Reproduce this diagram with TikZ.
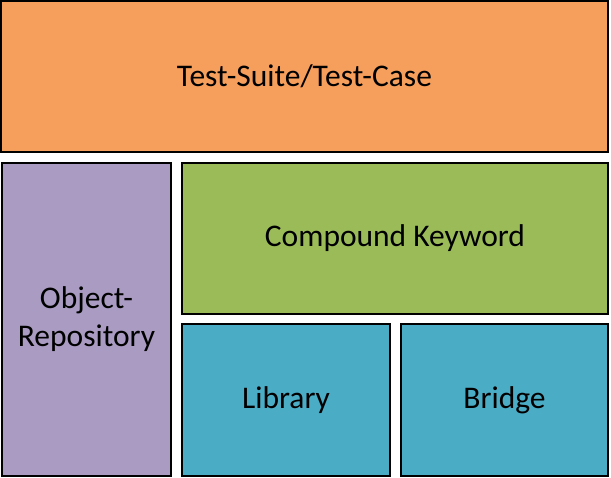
\documentclass[tikz,border=0pt]{standalone}
\usepackage{fontspec}
\setmainfont{Carlito}
\usepackage{tikz}
\definecolor{suiteorange}{RGB}{246,158,92}
\definecolor{repopurple}{RGB}{170,155,194}
\definecolor{kwgreen}{RGB}{155,187,89}
\definecolor{libblue}{RGB}{75,172,198}
\tikzset{
  layer/.style={draw=black, line width=2pt, inner sep=0pt, align=center,
                font=\fontsize{31.5}{38}\selectfont},
}

\begin{document}
\begin{tikzpicture}[x=1pt, y=-1pt]
  \useasboundingbox (0,0) rectangle (611,478);
  \node[layer, fill=suiteorange, minimum width=607pt, minimum height=151pt] (suite) at (304.5,76.5) {Test-Suite/Test-Case};
  \node[layer, fill=repopurple, minimum width=169pt, minimum height=313pt] (repo) at (86.5,319.5) {Object-\\Repository};
  \node[layer, fill=kwgreen, minimum width=426pt, minimum height=151pt] (kw) at (395,238.5) {Compound Keyword};
  \node[layer, fill=libblue, minimum width=208pt, minimum height=152pt] (lib) at (286,400) {Library};
  \node[layer, fill=libblue, minimum width=207pt, minimum height=152pt] (bridge) at (504.5,400) {Bridge};
\end{tikzpicture}
\end{document}
